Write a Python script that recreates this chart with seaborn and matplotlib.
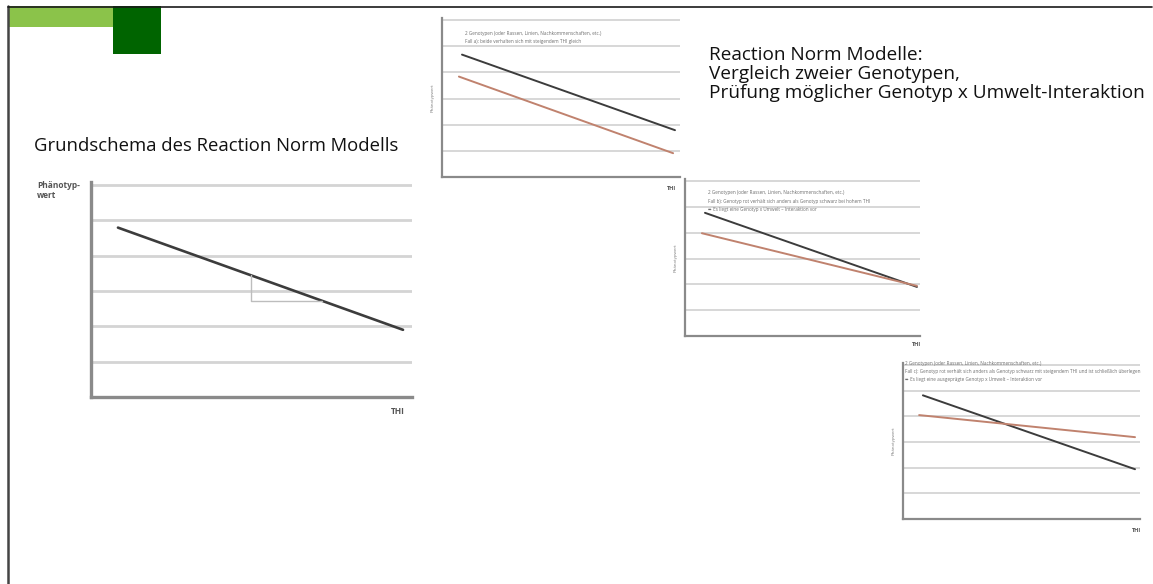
import matplotlib
matplotlib.use("Agg")
import matplotlib.pyplot as plt
from matplotlib.lines import Line2D
from matplotlib.patches import Rectangle
import pandas as pd
import seaborn as sns

# --- reaction norm values (THI on x, phenotype value on y) ---
thi_basis = [0.84, 9.72]
pheno_basis = [4.79, 1.90]
slope_x = [4.98, 4.98, 7.20]
slope_y = [3.44, 2.72, 2.72]

thi_a_black = [0.84, 9.79]
pheno_a_black = [4.68, 1.79]
thi_a_red = [0.71, 9.71]
pheno_a_red = [3.84, 0.91]

thi_b_black = [0.85, 9.87]
pheno_b_black = [4.77, 1.90]
thi_b_red = [0.72, 9.87]
pheno_b_red = [3.98, 1.94]

thi_c_black = [0.84, 9.79]
pheno_c_black = [4.82, 1.94]
thi_c_red = [0.68, 9.79]
pheno_c_red = [4.05, 3.19]

grid_levels = [1, 2, 3, 4, 5, 6]

title_left = "Grundschema des Reaction Norm Modells"
title_right = ["Reaction Norm Modelle:",
               "Vergleich zweier Genotypen,",
               "Prüfung möglicher Genotyp x Umwelt-Interaktion"]
notes_a = ["2 Genotypen (oder Rassen, Linien, Nachkommenschaften, etc.)",
           "Fall a): beide verhalten sich mit steigendem THI gleich"]
notes_b = ["2 Genotypen (oder Rassen, Linien, Nachkommenschaften, etc.)",
           "Fall b): Genotyp rot verhält sich anders als Genotyp schwarz bei hohem THI",
           "➨ Es liegt eine Genotyp x Umwelt \u2013 Interaktion vor"]
notes_c = ["2 Genotypen (oder Rassen, Linien, Nachkommenschaften, etc.)",
           "Fall c): Genotyp rot verhält sich anders als Genotyp schwarz mit steigendem THI und ist schließlich überlegen",
           "➨ Es liegt eine ausgeprägte Genotyp x Umwelt \u2013 Interaktion vor"]

sns.set_theme(style="white")
plt.rcParams["font.family"] = ["Open Sans", "DejaVu Sans"]

W, H = 1153, 584
fig = plt.figure(figsize=(W / 100, H / 100), dpi=100)
fig.patch.set_facecolor("white")

BLACK = "#3c3c3c"
RED = "#c0826e"
GRID = "#d4d4d4"
SPINE = "#8a8a8a"


def px_axes(left, top, right, bottom):
    return fig.add_axes([left / W, 1 - bottom / H, (right - left) / W, (bottom - top) / H])


def setup(ax, spine_w, grid_w):
    ax.set_xlim(0, 10)
    ax.set_ylim(0, 6.08)
    ax.set_yticks(grid_levels)
    ax.set_xticks([])
    ax.tick_params(left=False, bottom=False, labelleft=False, labelbottom=False)
    ax.grid(axis="y", color=GRID, lw=grid_w)
    for s in ("top", "right"):
        ax.spines[s].set_visible(False)
    for s in ("left", "bottom"):
        ax.spines[s].set_color(SPINE)
        ax.spines[s].set_linewidth(spine_w)
    ax.set_facecolor("none")
    ax.set_xlabel("")
    ax.set_ylabel("")


def draw_pair(ax, xb, yb, xr, yr, lw):
    df = pd.DataFrame({
        "THI": xb + xr,
        "Phänotypwert": yb + yr,
        "Genotyp": ["schwarz"] * len(xb) + ["rot"] * len(xr),
    })
    sns.lineplot(data=df, x="THI", y="Phänotypwert", hue="Genotyp",
                 palette={"schwarz": BLACK, "rot": RED}, lw=lw,
                 legend=False, ax=ax, estimator=None, sort=False)


# --- slide frame and decoration ---
fig.add_artist(Line2D([8 / W, 8 / W], [1 - 6 / H, 0], color="#444444", lw=1.8))
fig.add_artist(Line2D([8 / W, 1152 / W], [1 - 7 / H, 1 - 7 / H], color="#1a1a1a", lw=1.2))
fig.add_artist(Rectangle((8 / W, 1 - 27 / H), 105 / W, 21 / H, color="#8bc34a", lw=0))
fig.add_artist(Rectangle((113 / W, 1 - 54 / H), 48 / W, 48 / H, color="#006400", lw=0))

# --- basic scheme ---
fig.text(34 / W, 1 - 146 / H, title_left, fontsize=13.3, color="#111111", va="center", ha="left")
ax1 = px_axes(91, 182, 412, 397)
setup(ax1, 2.4, 2.0)
df1 = pd.DataFrame({"THI": thi_basis, "Phänotypwert": pheno_basis})
sns.lineplot(data=df1, x="THI", y="Phänotypwert", color=BLACK, lw=1.9, ax=ax1,
             estimator=None, sort=False)
ax1.plot(slope_x, slope_y, color="#bdbdbd", lw=1.0)
ax1.set_xlabel("")
ax1.set_ylabel("")
fig.text(37 / W, 1 - 181 / H, "Phänotyp-\nwert", fontsize=6.0, fontweight="bold",
         color="#555555", va="top", ha="left", linespacing=1.1)
fig.text(398 / W, 1 - 412 / H, "THI", fontsize=6.0, fontweight="bold",
         color="#555555", va="center", ha="center")

# --- right-hand title ---
for i, line in enumerate(title_right):
    fig.text(709 / W, 1 - (55 + 19 * i) / H, line, fontsize=13.7, color="#111111",
             va="center", ha="left")


def small_chart(left, top, right, bottom, xb, yb, xr, yr, notes, note_x, note_y, thi_xy):
    ax = px_axes(left, top, right, bottom)
    setup(ax, 1.6, 1.3)
    draw_pair(ax, xb, yb, xr, yr, 1.4)
    ax.set_xlabel("")
    ax.set_ylabel("")
    for i, line in enumerate(notes):
        fig.text(note_x / W, 1 - (note_y + 8.5 * i) / H, line, fontsize=3.3,
                 color="#6e6e6e", va="center", ha="left")
    fig.text(thi_xy[0] / W, 1 - thi_xy[1] / H, "THI", fontsize=4.0, fontweight="bold",
             color="#555555", va="center", ha="center")
    fig.text((left - 9) / W, 1 - (top + bottom) / 2 / H, "Phänotypwert", fontsize=3.2,
             color="#7a7a7a", rotation=90, va="center", ha="center")
    return ax


small_chart(442, 18, 680, 177, thi_a_black, pheno_a_black, thi_a_red, pheno_a_red,
            notes_a, 465, 33, (672, 189))
small_chart(685, 179, 920, 336, thi_b_black, pheno_b_black, thi_b_red, pheno_b_red,
            notes_b, 708, 193, (917, 345))
small_chart(903, 363, 1140, 519, thi_c_black, pheno_c_black, thi_c_red, pheno_c_red,
            notes_c, 905, 363, (1137, 531))

fig.savefig("out.png", dpi=100, facecolor="white")
